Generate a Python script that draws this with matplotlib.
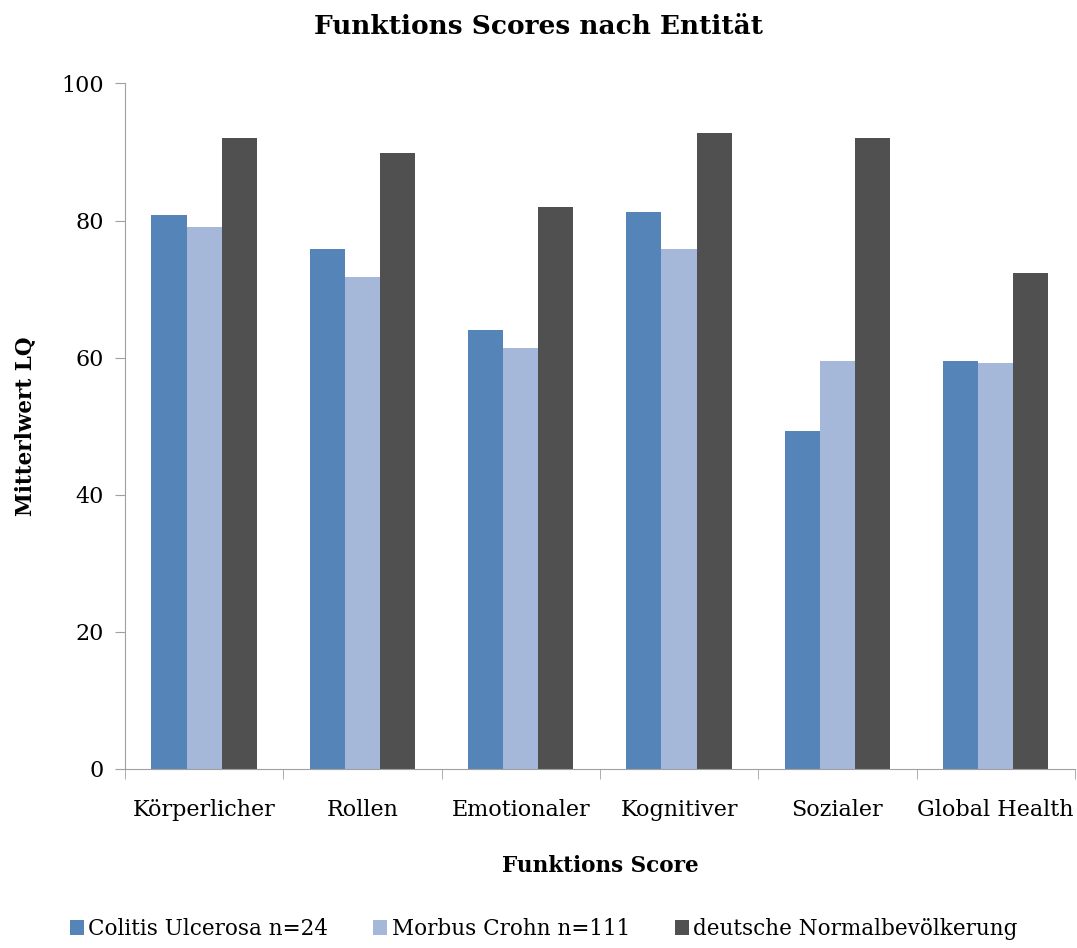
import numpy as np
import matplotlib.pyplot as plt

kategorien = ["Körperlicher", "Rollen", "Emotionaler", "Kognitiver", "Sozialer", "Global Health"]
colitis = [80.8, 75.8, 64.0, 81.3, 49.3, 59.5]
crohn = [79.0, 71.7, 61.4, 75.8, 59.5, 59.2]
normal = [92.1, 89.9, 81.9, 92.8, 92.1, 72.3]
serien = ["Colitis Ulcerosa n=24", "Morbus Crohn n=111", "deutsche Normalbevölkerung"]
farben = ["#5585B8", "#A5B8D9", "#505050"]

plt.rcParams['font.family'] = ['DejaVu Serif']

fig = plt.figure(figsize=(10.77, 9.48), dpi=100)
ax = fig.add_axes([0.116, 0.189, 0.882, 0.723])

x = np.arange(len(kategorien))
w = 0.222
for i, (werte, name, farbe) in enumerate(zip([colitis, crohn, normal], serien, farben)):
    ax.bar(x + (i - 1) * w, werte, w, color=farbe, label=name, edgecolor="none")

ax.set_xlim(-0.5, len(kategorien) - 0.5)
ax.set_ylim(0, 100)
ax.set_yticks(range(0, 101, 20))
ax.set_xticks(x)
ax.set_xticklabels(kategorien, fontsize=16)
ax.set_xticks(np.arange(-0.5, len(kategorien)), minor=True)
ax.tick_params(axis="x", which="major", length=0, pad=22)
ax.tick_params(axis="x", which="minor", length=7, color="#A0A0A0")
ax.tick_params(axis="y", length=7, color="#A0A0A0", labelsize=16, pad=8)
for s in ["top", "right"]:
    ax.spines[s].set_visible(False)
for s in ["left", "bottom"]:
    ax.spines[s].set_color("#A0A0A0")

ax.set_xlabel("Funktions Score", fontsize=15.5, fontweight="bold", labelpad=24)
ax.set_ylabel("Mitterlwert LQ", fontsize=15.5, fontweight="bold", labelpad=18)
fig.suptitle("Funktions Scores nach Entität", fontsize=19, fontweight="bold", y=0.985)

fig.legend(loc="lower center", ncol=3, frameon=False, fontsize=15.5,
           bbox_to_anchor=(0.505, -0.012), handlelength=0.65, handleheight=0.65,
           handletextpad=0.2, columnspacing=2.1)

fig.savefig("out.png", dpi=100)
